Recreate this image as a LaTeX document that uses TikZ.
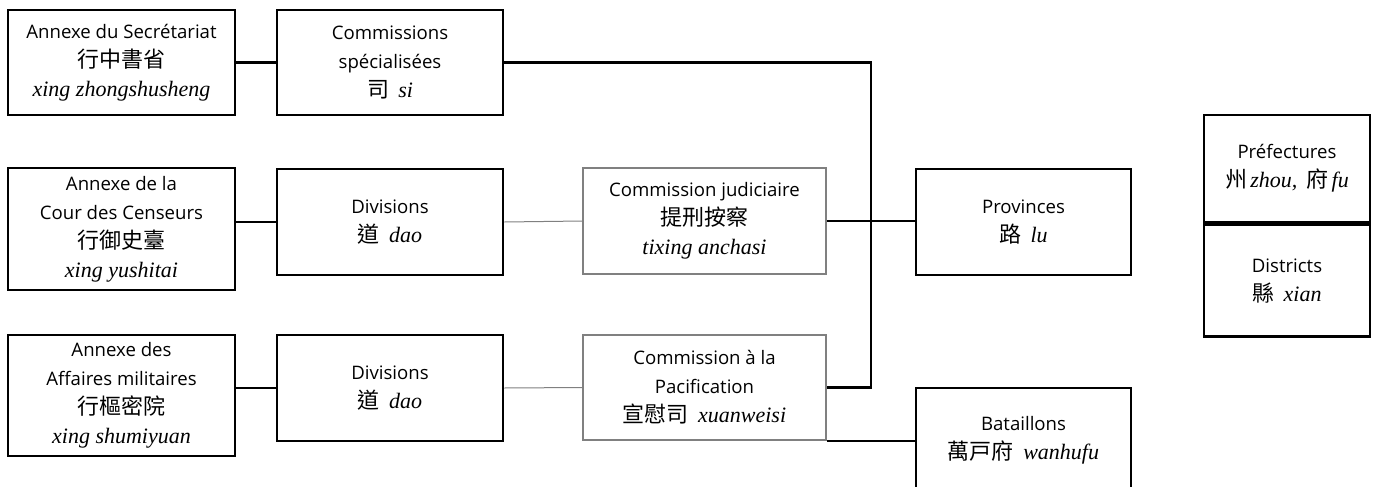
\documentclass[tikz,border=0pt]{standalone}
\usepackage{fontspec}
\setmainfont{Open Sans}
\newfontfamily\pyfont{Liberation Serif}
\newfontfamily\cjk{Noto Sans CJK TC}
\newcommand{\zh}[1]{{\cjk\fontsize{11pt}{14.5pt}\selectfont #1}}
\newcommand{\py}[1]{{\pyfont\itshape\fontsize{11pt}{14.5pt}\selectfont #1}}
\tikzset{
  office/.style={draw, line width=1.4pt, align=center, inner sep=0pt,
    font=\fontsize{9.3pt}{14.5pt}\selectfont},
  commission/.style={office, draw=gray, line width=0.75pt},
  boxsize/.style 2 args={minimum width=#1*0.5pt, minimum height=#2*0.5pt},
  link/.style={line width=1.2pt},
  thinlink/.style={draw=gray, line width=0.5pt}
}

\begin{document}
\begin{tikzpicture}[x=0.5pt, y=-0.5pt]
\useasboundingbox (0,0) rectangle (1381,487);
% annexes
\node[office, boxsize={227}{105}] (secr) at (121.5,62.5)
  {Annexe du Secrétariat\\ \zh{行中書省}\\ \py{xing zhongshusheng}};
\node[office, boxsize={227}{122}] (cens) at (121.5,229)
  {Annexe de la\\ Cour des Censeurs\\ \zh{行御史臺}\\ \py{xing yushitai}};
\node[office, boxsize={227}{121}] (mil) at (121.5,395.5)
  {Annexe des\\ Affaires militaires\\ \zh{行樞密院}\\ \py{xing shumiyuan}};
% second column
\node[office, boxsize={226}{105}] (si) at (390,62.5)
  {Commissions\\ spécialisées\\ \zh{司}\enspace\py{si}};
\node[office, boxsize={226}{106}] (dao1) at (390,222)
  {Divisions\\ \zh{道}\enspace\py{dao}};
\node[office, boxsize={226}{106}] (dao2) at (390,388)
  {Divisions\\ \zh{道}\enspace\py{dao}};
% commissions
\node[commission, boxsize={243}{106}] (jud) at (704.5,221)
  {Commission judiciaire\\ \zh{提刑按察}\\ \py{tixing anchasi}};
\node[commission, boxsize={243}{105}] (pac) at (704.5,387.5)
  {Commission à la\\ Pacification\\ \zh{宣慰司}\enspace\py{xuanweisi}};
% local levels
\node[office, boxsize={215}{106}] (lu) at (1023.5,222)
  {Provinces\\ \zh{路}\enspace\py{lu}};
\node[office, boxsize={215}{104}] (bat) at (1023.5,440)
  {Bataillons\\ \zh{萬戸府}\enspace\py{wanhufu}};
\node[office, boxsize={166}{107}] (pref) at (1287,168.5)
  {Préfectures\\ \zh{州}\,\py{zhou,}\enspace\zh{府}\,\py{fu}};
\node[office, boxsize={166}{112}, anchor=north] (xian) at (pref.south)
  {Districts\\ \zh{縣}\enspace\py{xian}};
\coordinate (bus) at (871,0);

\draw[link] (secr.east) -- (si.west);
\draw[link] (cens.east |- dao1.west) -- (dao1.west);
\draw[link] (mil.east |- dao2.west) -- (dao2.west);
\draw[thinlink] (dao1.east) -- (jud.west);
\draw[thinlink] (dao2.east) -- (pac.west);
\draw[link] (jud.east) -- (lu.west |- jud.east);
\draw[link] (si.east) -| (bus |- pac.east) -- (pac.east);
\draw[link] (pac.south east) -- (bat.west |- pac.south east);
\end{tikzpicture}
\end{document}
